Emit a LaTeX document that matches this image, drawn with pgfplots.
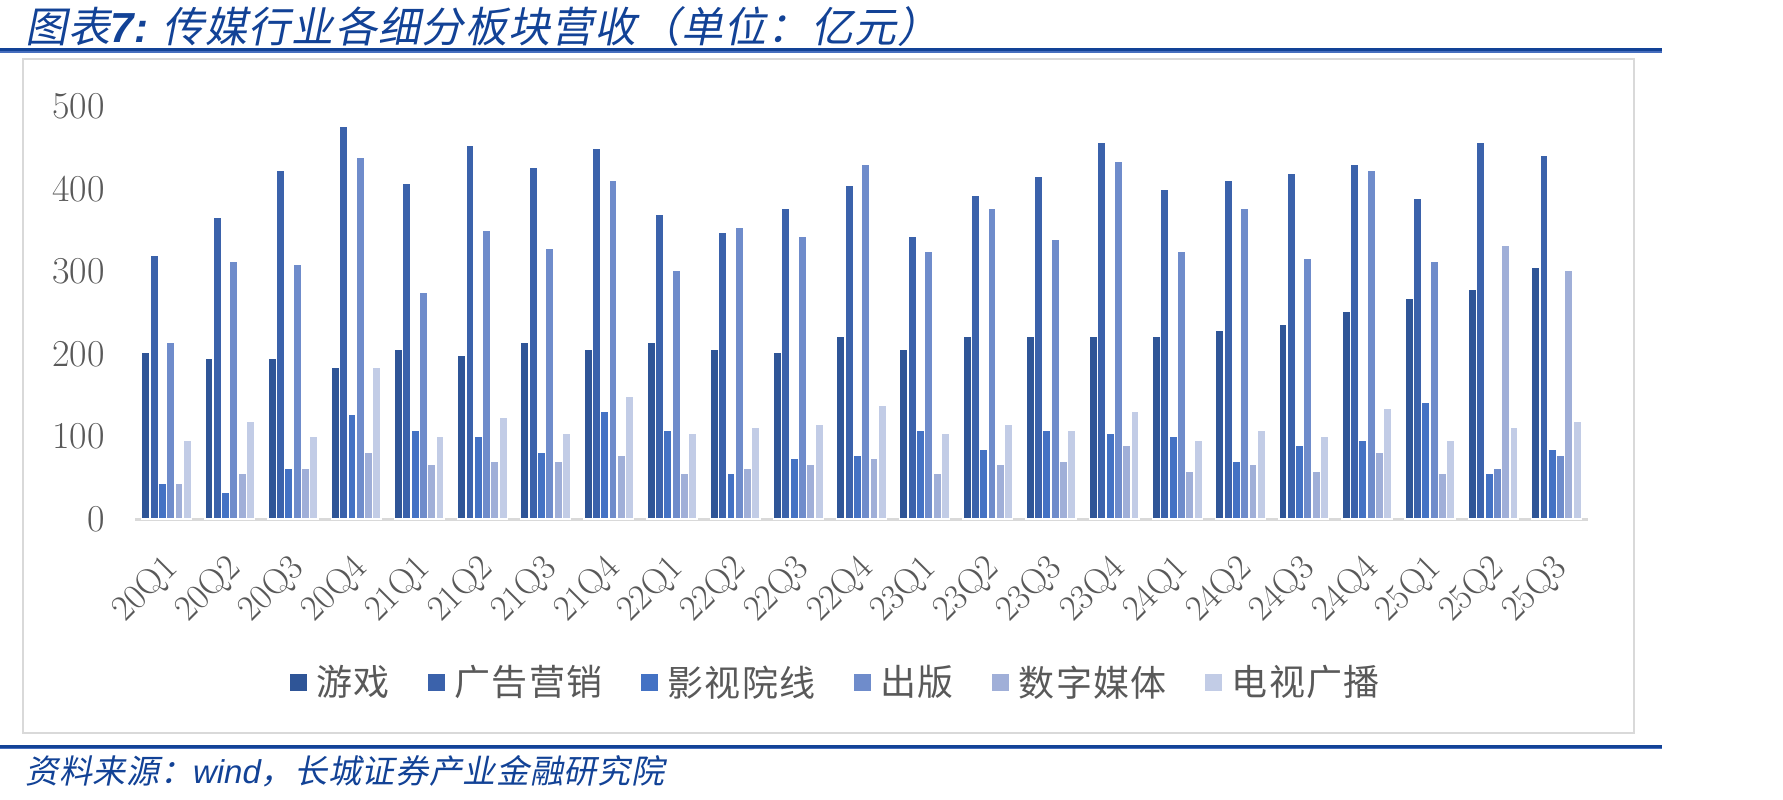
\documentclass[border=0pt]{standalone}
\usepackage{pgfplots}
\pgfplotsset{compat=1.18}
\usepackage{pgfplotstable}
\usepackage{fontspec}
\newfontfamily\cjk{Noto Sans CJK SC}[LetterSpace=4]
\newfontfamily\cjkit{Noto Sans CJK SC}[FakeSlant=0.2,LetterSpace=3]
\newfontfamily\cjksrc{Noto Sans CJK SC}[FakeSlant=0.2,LetterSpace=2]
\newfontfamily\latsans{Liberation Sans}
\definecolor{cA}{HTML}{2F5597}
\definecolor{cB}{HTML}{3B62AB}
\definecolor{cC}{HTML}{4472C4}
\definecolor{cD}{HTML}{6F8CCB}
\definecolor{cE}{HTML}{A0AFD8}
\definecolor{cF}{HTML}{C2CCE6}
\definecolor{titleblue}{RGB}{18,66,150}
\definecolor{lineblue}{RGB}{70,110,190}
\definecolor{framegray}{HTML}{D9D9D9}
\definecolor{txtgray}{HTML}{595959}

\pgfplotstableread{
x g a f p d t
0 202 320 43 214 43 96
1 195 366 32 313 55 119
2 195 423 62 309 62 100
3 184 476 127 438 81 184
4 206 407 108 275 66 100
5 198 453 100 350 70 123
6 214 426 81 328 70 104
7 206 449 130 411 77 149
8 214 370 108 301 55 104
9 206 347 55 354 62 111
10 202 377 73 343 66 115
11 221 404 77 430 73 138
12 206 343 108 324 55 104
13 221 392 85 377 66 115
14 221 415 108 339 70 108
15 221 457 104 434 89 130
16 221 400 100 324 58 96
17 229 411 70 377 66 108
18 236 419 89 316 58 100
19 252 430 96 423 81 134
20 267 389 142 313 55 96
21 279 457 55 62 332 111
22 305 441 85 77 301 119
}\data

\begin{document}
\begin{tikzpicture}
\useasboundingbox (0,0) rectangle (891.5pt,399.5pt);
% title
\node[anchor=west, inner sep=0pt, text=titleblue] at (12.5pt,386pt)
  {\fontsize{21}{21}\selectfont\cjkit 图表{\latsans\bfseries\itshape 7:} 传媒行业各细分板块营收（单位：亿元）};
% top rule
\fill[titleblue] (0,373.8pt) rectangle (831pt,375.3pt);
\fill[lineblue] (0,373.0pt) rectangle (831pt,373.8pt);
% frame
\draw[framegray, line width=1.3pt] (11.5pt,33pt) rectangle (817pt,370pt);
% bottom rule
\fill[titleblue] (0,25.6pt) rectangle (831pt,27.1pt);
\fill[lineblue] (0,24.8pt) rectangle (831pt,25.6pt);
% source
\node[anchor=west, inner sep=0pt, text=titleblue] at (12.5pt,14pt)
  {\fontsize{16.5}{16.5}\selectfont\cjksrc 资料来源：{\latsans\itshape wind}，长城证券产业金融研究院};

\begin{axis}[
  at={(67.5pt,140pt)}, anchor=south west,
  scale only axis, width=726.5pt, height=206.2pt,
  xmin=-0.5, xmax=22.5, ymin=0, ymax=500,
  clip=false,
  ybar=0pt, bar width=4.15pt,
  axis line style={draw=none},
  major tick length=0pt,
  xtick=data,
  xticklabels={20Q1,20Q2,20Q3,20Q4,21Q1,21Q2,21Q3,21Q4,22Q1,22Q2,22Q3,22Q4,23Q1,23Q2,23Q3,23Q4,24Q1,24Q2,24Q3,24Q4,25Q1,25Q2,25Q3},
  ytick={0,100,200,300,400,500},
  /pgf/number format/assume math mode=true,
  yticklabel style={font=\fontsize{19}{19}\selectfont, text=txtgray, anchor=east, inner sep=0pt},
  yticklabel shift=15pt,
  xticklabel style={font=\fontsize{18}{18}\selectfont, text=txtgray, xshift=-2.8pt, rotate=45, anchor=north east, inner sep=0pt},
  xticklabel shift=16pt,
  legend columns=6,
  legend style={at={(axis description cs:0.483,-0.396)}, anchor=center, draw=none, fill=none,
    font=\cjk\fontsize{18}{18}\selectfont, text=txtgray,
    /tikz/every even column/.append style={column sep=17pt}},
  legend image code/.code={\fill[#1,draw=none] (0pt,-4.25pt) rectangle (8.5pt,4.25pt); \path (11pt,0pt);},
  every axis plot/.append style={draw=white, line width=0.7pt},
]
\draw[framegray, line width=1.5pt] (axis cs:-0.5,0) -- (axis cs:22.5,0);
\addplot[fill=cA] table[x=x,y=g] {\data};
\addplot[fill=cB] table[x=x,y=a] {\data};
\addplot[fill=cC] table[x=x,y=f] {\data};
\addplot[fill=cD] table[x=x,y=p] {\data};
\addplot[fill=cE] table[x=x,y=d] {\data};
\addplot[fill=cF] table[x=x,y=t] {\data};
\legend{游戏,广告营销,影视院线,出版,数字媒体,电视广播}
\end{axis}
\end{tikzpicture}
\end{document}
